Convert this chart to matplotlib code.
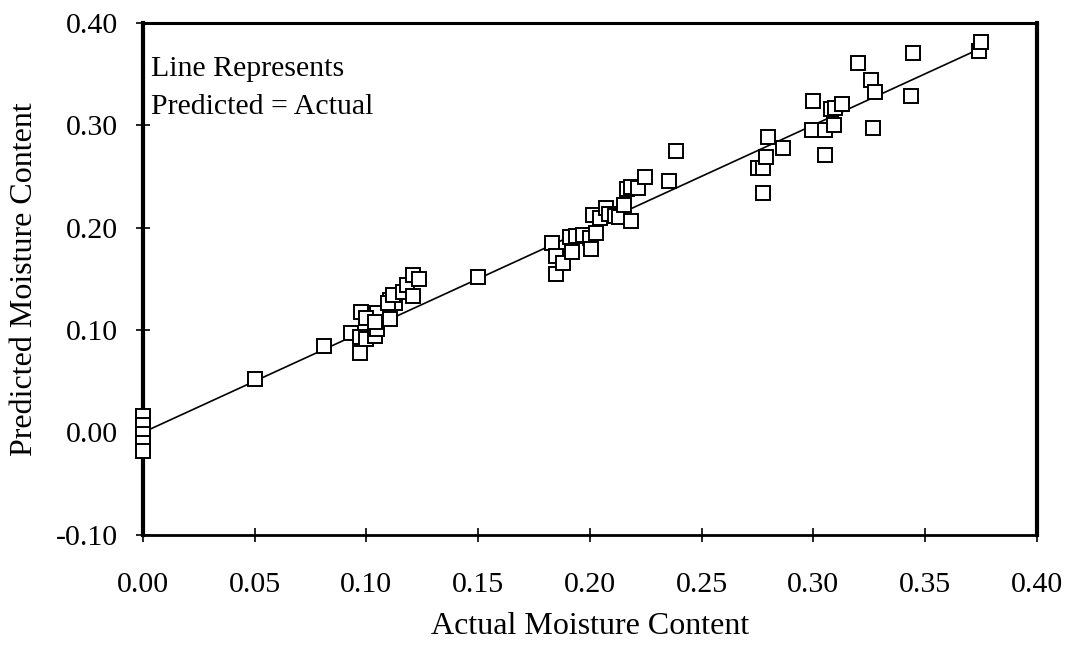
import matplotlib
matplotlib.use("Agg")
import matplotlib.pyplot as plt
import numpy as np

plt.rcParams['font.family'] = ['Liberation Serif', 'DejaVu Serif']

actual = [
    0.0, 0.0, 0.0, 0.0, 0.0,
    0.050, 0.081, 0.150,
    0.0975, 0.093, 0.097, 0.097, 0.100, 0.104, 0.1046, 0.1046, 0.100, 0.104,
    0.1105, 0.1105, 0.113, 0.1096, 0.112, 0.1163, 0.118, 0.121, 0.1235, 0.1207,
    0.183, 0.185, 0.185, 0.188, 0.192, 0.191, 0.194, 0.197, 0.200, 0.2006,
    0.2026, 0.2015, 0.2045, 0.2074, 0.2086, 0.2112, 0.213, 0.2154, 0.2186,
    0.2164, 0.2184, 0.2216, 0.2246, 0.2355, 0.2385,
    0.2775, 0.2753, 0.2773, 0.2788, 0.2798, 0.2865, 0.2999, 0.2996, 0.3051,
    0.3051, 0.3077, 0.3092, 0.3096, 0.3130, 0.3200, 0.3260, 0.3275, 0.3268,
    0.3439, 0.3446, 0.3742, 0.3752,
]
predicted = [
    0.016, 0.007, -0.002, -0.010, -0.018,
    0.052, 0.084, 0.152,
    0.118, 0.097, 0.078, 0.093, 0.091, 0.094, 0.1165, 0.101, 0.112, 0.108,
    0.111, 0.129, 0.126, 0.126, 0.134, 0.1375, 0.144, 0.154, 0.1497, 0.1327,
    0.185, 0.172, 0.155, 0.165, 0.176, 0.191, 0.192, 0.193, 0.190, 0.179,
    0.195, 0.212, 0.209, 0.2195, 0.213, 0.2114, 0.2107, 0.2215, 0.206,
    0.2375, 0.240, 0.2384, 0.2497, 0.2458, 0.275,
    0.2336, 0.2585, 0.2585, 0.2693, 0.2888, 0.2775, 0.3236, 0.2953, 0.2953,
    0.2703, 0.3153, 0.3002, 0.3165, 0.3207, 0.3604, 0.3441, 0.3327, 0.297,
    0.3288, 0.3701, 0.3727, 0.3815,
]
line_x = [0.0, 0.375]
line_y = [0.0, 0.375]

xticks = [0.00, 0.05, 0.10, 0.15, 0.20, 0.25, 0.30, 0.35, 0.40]
yticks = [-0.10, 0.00, 0.10, 0.20, 0.30, 0.40]

fig = plt.figure(figsize=(10.70, 6.46), dpi=100)
ax = fig.add_axes([0.1336, 0.172, 0.8354, 0.793])

ax.plot(line_x, line_y, color='black', lw=1.2, zorder=2)
ax.plot(actual, predicted, linestyle='none', marker='s', markersize=9.5,
        markerfacecolor='white', markeredgecolor='black', markeredgewidth=1.4,
        zorder=3, clip_on=False)

ax.set_xlim(0, 0.40)
ax.set_ylim(-0.10, 0.40)
ax.set_xticks(xticks)
ax.set_yticks(yticks)
ax.set_xticklabels([f"{v:.2f}" for v in xticks])
ax.set_yticklabels([f"{v:.2f}" for v in yticks])
ax.tick_params(direction='inout', length=10, width=1.2, labelsize=21.5)
ax.tick_params(axis='x', pad=22)
ax.tick_params(axis='y', pad=13)

ax.spines['left'].set_linewidth(3)
ax.spines['right'].set_linewidth(3)
ax.spines['top'].set_linewidth(2.2)
ax.spines['bottom'].set_linewidth(2)

ax.set_xlabel('Actual Moisture Content', fontsize=23, labelpad=10)
ax.set_ylabel('Predicted Moisture Content', fontsize=23, labelpad=12)

ax.text(0.009, 0.935, 'Line Represents\nPredicted = Actual', transform=ax.transAxes,
        fontsize=21.5, va='top', ha='left', linespacing=1.6)

fig.savefig('out.png', dpi=100)
